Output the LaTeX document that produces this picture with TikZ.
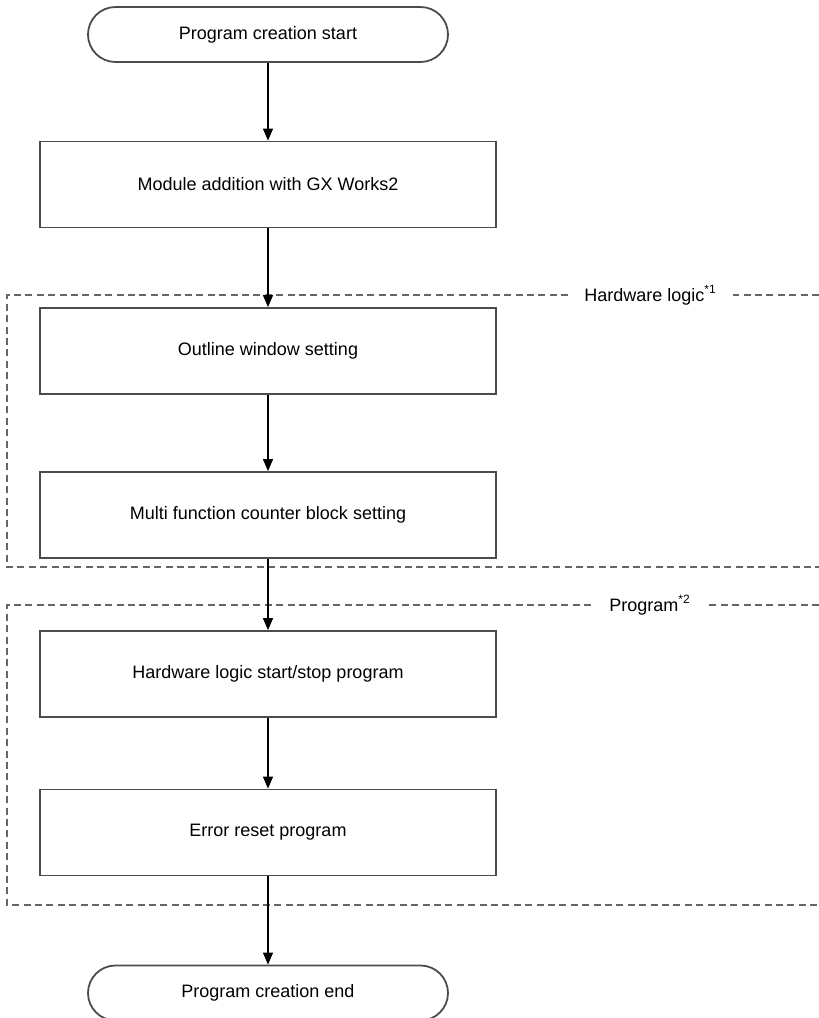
\documentclass[tikz,border=0pt]{standalone}
\usepackage{fontspec}
\setmainfont{Liberation Sans}
\usetikzlibrary{arrows.meta}
\begin{document}
\begin{tikzpicture}[x=0.5pt, y=-0.5pt,
    term/.style={draw=black!70, line width=0.9pt, rounded corners=13.75pt,
      minimum width=180pt, minimum height=27.5pt, font=\fontsize{9}{11}\selectfont},
    stepbox/.style={draw=black!70, line width=0.9pt, minimum width=228pt,
      minimum height=43pt, font=\fontsize{9}{11}\selectfont},
    region/.style={draw=black!60, line width=0.7pt, dash pattern=on 3.5pt off 2.2pt},
    lbl/.style={fill=white, inner xsep=8pt, inner ysep=1pt, anchor=west,
      font=\fontsize{9}{11}\selectfont},
    arr/.style={-{Triangle[width=5pt,length=6pt]}, line width=0.6pt}
  ]
    \useasboundingbox (0,0) rectangle (819,1018);
    % dashed groups, open to the right
    \draw[region] (819,295) -- (7,295) -- (7,567) -- (819,567);
    \node[lbl] (hwlbl) at (568,295) {Hardware logic\textsuperscript{*1}};
    \draw[region] (819,605) -- (7,605) -- (7,905) -- (819,905);
    \node[lbl] (prglbl) at (593,605) {Program\textsuperscript{*2}};
    % flow
    \node[term] (start) at (268,34.5) {Program creation start};
    \node[stepbox] (module) at (268,184.5) {Module addition with GX Works2};
    \node[stepbox] (outline) at (268,351) {Outline window setting};
    \node[stepbox] (counter) at (268,515) {Multi function counter block setting};
    \node[stepbox] (hwprog) at (268,674) {Hardware logic start/stop program};
    \node[stepbox] (errprog) at (268,832.5) {Error reset program};
    \node[term] (finish) at (268,993) {Program creation end};
    \draw[arr] (start) -- (module);
    \draw[arr] (module) -- (outline);
    \draw[arr] (outline) -- (counter);
    \draw[arr] (counter) -- (hwprog);
    \draw[arr] (hwprog) -- (errprog);
    \draw[arr] (errprog) -- (finish);
  \end{tikzpicture}
\end{document}
